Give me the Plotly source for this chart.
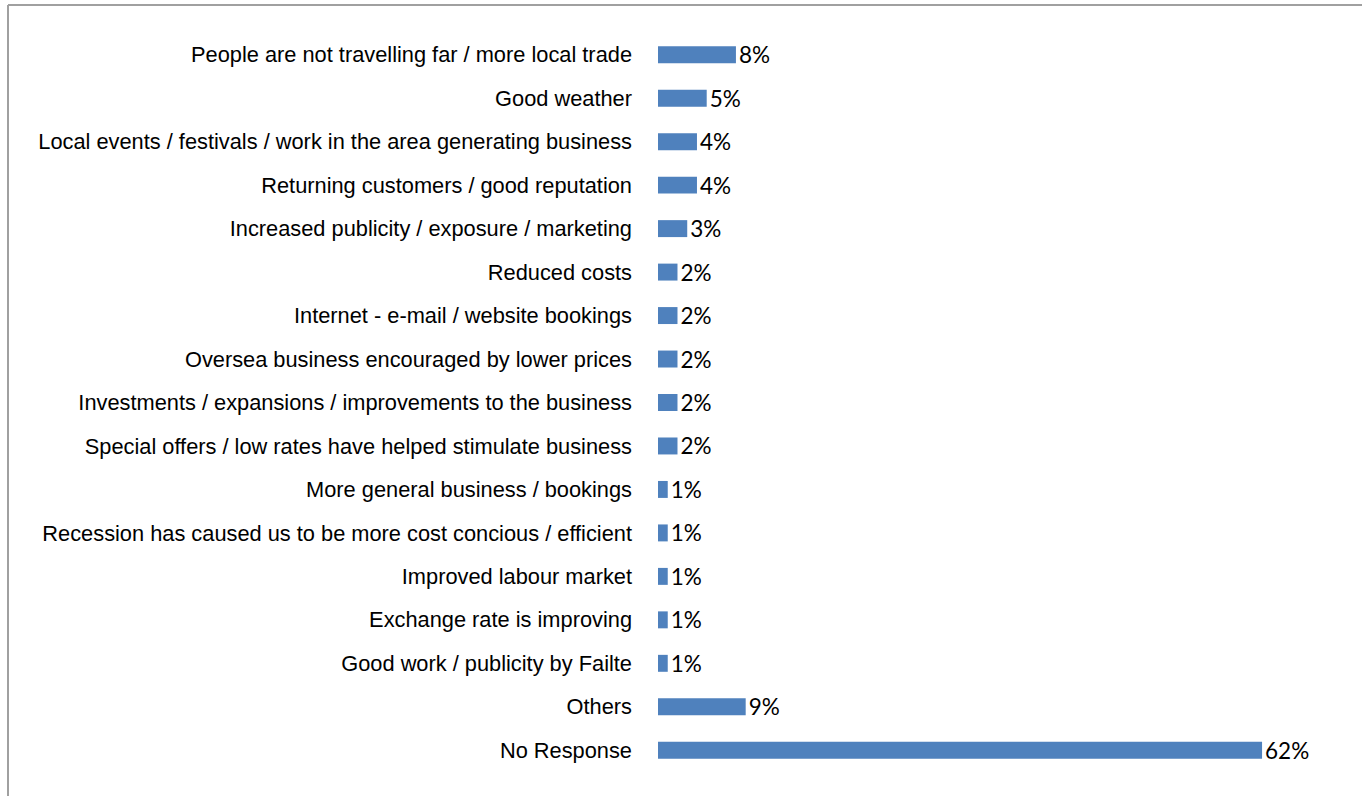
import plotly.graph_objects as go

# Reasons cited for improved business, share of respondents (%)
categories = [
    "People are not travelling far / more local trade",
    "Good weather",
    "Local events / festivals / work in the area generating business",
    "Returning customers / good reputation",
    "Increased publicity / exposure / marketing",
    "Reduced costs",
    "Internet - e-mail / website bookings",
    "Oversea business encouraged by lower prices",
    "Investments / expansions / improvements to the business",
    "Special offers / low rates have helped stimulate business",
    "More general business / bookings",
    "Recession has caused us to be more cost concious / efficient",
    "Improved labour market",
    "Exchange rate is improving",
    "Good work / publicity by Failte",
    "Others",
    "No Response",
]
values = [8, 5, 4, 4, 3, 2, 2, 2, 2, 2, 1, 1, 1, 1, 1, 9, 62]
value_labels = [f"{v}%" for v in values]

W, H = 1362, 796
ML, MR, MT, MB = 658, 22, 33, 24
BAR_COLOR = "#4F81BD"

fig = go.Figure(
    go.Bar(
        x=values,
        y=categories,
        orientation="h",
        marker=dict(color=BAR_COLOR, line=dict(width=0)),
        text=value_labels,
        textposition="outside",
        constraintext="none",
        cliponaxis=False,
        textfont=dict(family="Lato", size=22.5, color="#000000"),
        hoverinfo="skip",
    )
)

# Chart-area frame: gray rule along the top and left edges
plot_w = W - ML - MR
plot_h = H - MT - MB
left_px, top_px = 8, 5
fx = (left_px - ML) / plot_w
fy = 1 + (MT - top_px) / plot_h
frame = dict(color="#A0A0A0", width=2)
fig.add_shape(type="line", xref="paper", yref="paper",
              x0=fx, x1=2, y0=fy, y1=fy, line=frame)
fig.add_shape(type="line", xref="paper", yref="paper",
              x0=fx, x1=fx, y0=-1, y1=fy, line=frame)

fig.update_layout(
    width=W,
    height=H,
    margin=dict(l=ML, r=MR, t=MT, b=MB, pad=0),
    paper_bgcolor="white",
    plot_bgcolor="white",
    bargap=0.61,
    showlegend=False,
    xaxis=dict(range=[0, 70], visible=False, fixedrange=True),
    yaxis=dict(
        autorange="reversed",
        showline=False,
        showgrid=False,
        zeroline=False,
        ticks="",
        ticklabelstandoff=25,
        tickfont=dict(family="Liberation Sans", size=21.8, color="#000000"),
        automargin=False,
        fixedrange=True,
    ),
)

fig.write_html("out.html", config={"displayModeBar": False})
